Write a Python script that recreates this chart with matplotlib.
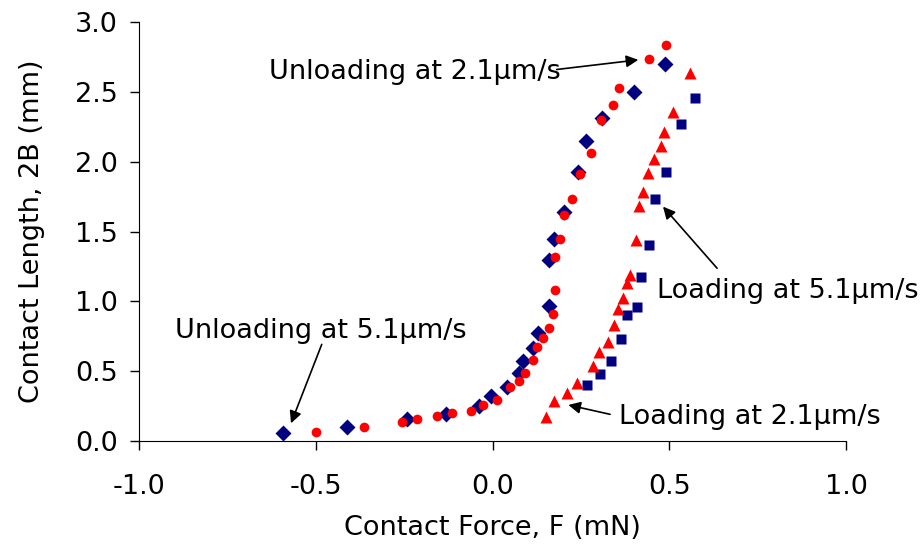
import numpy as np
import matplotlib
matplotlib.use('Agg')
import matplotlib.pyplot as plt

# contact force F (mN) and contact length 2B (mm) for each run
unload51_F = [-0.593, -0.412, -0.242, -0.132, -0.038, -0.006, 0.040, 0.073, 0.087,
              0.113, 0.129, 0.158, 0.158, 0.174, 0.202, 0.240, 0.264, 0.309, 0.401, 0.488]
unload51_B = [0.059, 0.098, 0.155, 0.191, 0.251, 0.325, 0.385, 0.485, 0.575,
              0.664, 0.771, 0.967, 1.297, 1.445, 1.643, 1.929, 2.151, 2.311, 2.502, 2.698]

unload21_F = [-0.499, -0.365, -0.258, -0.215, -0.157, -0.116, -0.062, -0.028, 0.011,
              0.049, 0.073, 0.092, 0.113, 0.126, 0.143, 0.160, 0.170, 0.176, 0.176,
              0.189, 0.202, 0.224, 0.247, 0.278, 0.307, 0.339, 0.356, 0.441, 0.490]
unload21_B = [0.062, 0.100, 0.136, 0.160, 0.179, 0.198, 0.213, 0.258, 0.294,
              0.389, 0.430, 0.485, 0.580, 0.676, 0.736, 0.812, 0.907, 1.082, 1.316,
              1.447, 1.619, 1.734, 1.913, 2.061, 2.299, 2.407, 2.526, 2.734, 2.832]

load21_F = [0.151, 0.174, 0.211, 0.238, 0.285, 0.301, 0.327, 0.342, 0.354, 0.368,
            0.381, 0.389, 0.405, 0.415, 0.424, 0.439, 0.457, 0.476, 0.485, 0.509, 0.557]
load21_B = [0.174, 0.287, 0.342, 0.418, 0.537, 0.635, 0.711, 0.831, 0.943, 1.022,
            1.130, 1.189, 1.440, 1.686, 1.786, 1.922, 2.018, 2.115, 2.211, 2.359, 2.634]

load51_F = [0.268, 0.304, 0.335, 0.363, 0.380, 0.408, 0.420, 0.443, 0.458, 0.490, 0.533, 0.573]
load51_B = [0.401, 0.480, 0.575, 0.731, 0.903, 0.962, 1.173, 1.404, 1.731, 1.925, 2.269, 2.459]

navy = '#000080'
red = '#FF0000'
fs = 19.5

fig = plt.figure(figsize=(9.23, 5.6), dpi=100)
ax = fig.add_axes([0.1511, 0.2125, 0.7655, 0.7482])

ax.plot(unload21_F, unload21_B, 'o', color=red, ms=7, mec='none', zorder=3)
ax.plot(unload51_F, unload51_B, 'D', color=navy, ms=8.5, mec='none', zorder=2)
ax.plot(load21_F, load21_B, '^', color=red, ms=8, mec='none', zorder=3)
ax.plot(load51_F, load51_B, 's', color=navy, ms=7, mec='none', zorder=2)

ax.set_xlim(-1.0, 1.0)
ax.set_ylim(0.0, 3.0)
ax.set_xticks(np.arange(-1.0, 1.01, 0.5))
ax.set_yticks(np.arange(0.0, 3.01, 0.5))
ax.xaxis.set_major_formatter(matplotlib.ticker.FormatStrFormatter('%.1f'))
ax.yaxis.set_major_formatter(matplotlib.ticker.FormatStrFormatter('%.1f'))
ax.tick_params(direction='out', length=6.5, width=1, labelsize=fs)
ax.tick_params(axis='x', pad=17)
ax.tick_params(axis='y', pad=9)
ax.spines['top'].set_visible(False)
ax.spines['right'].set_visible(False)
ax.set_xlabel('Contact Force, F (mN)', fontsize=fs, labelpad=11)
ax.set_ylabel('Contact Length, 2B (mm)', fontsize=fs, labelpad=22)

arrow = dict(arrowstyle='-|>', color='black', lw=1.2, mutation_scale=18, shrinkA=0, shrinkB=0)

ax.text(-0.634, 2.593, 'Unloading at 2.1\u03bcm/s', fontsize=fs, va='baseline')
ax.annotate('', xy=(0.412, 2.729), xytext=(0.181, 2.66), arrowprops=arrow)

ax.text(-0.898, 0.736, 'Unloading at 5.1\u03bcm/s', fontsize=fs, va='baseline')
ax.annotate('', xy=(-0.571, 0.127), xytext=(-0.484, 0.692), arrowprops=arrow)

ax.text(0.464, 1.022, 'Loading at 5.1\u03bcm/s', fontsize=fs, va='baseline')
ax.annotate('', xy=(0.482, 1.678), xytext=(0.635, 1.237), arrowprops=arrow)

ax.text(0.358, 0.122, 'Loading at 2.1\u03bcm/s', fontsize=fs, va='baseline')
ax.annotate('', xy=(0.214, 0.258), xytext=(0.332, 0.191), arrowprops=arrow)

fig.savefig('out.png', dpi=100)
